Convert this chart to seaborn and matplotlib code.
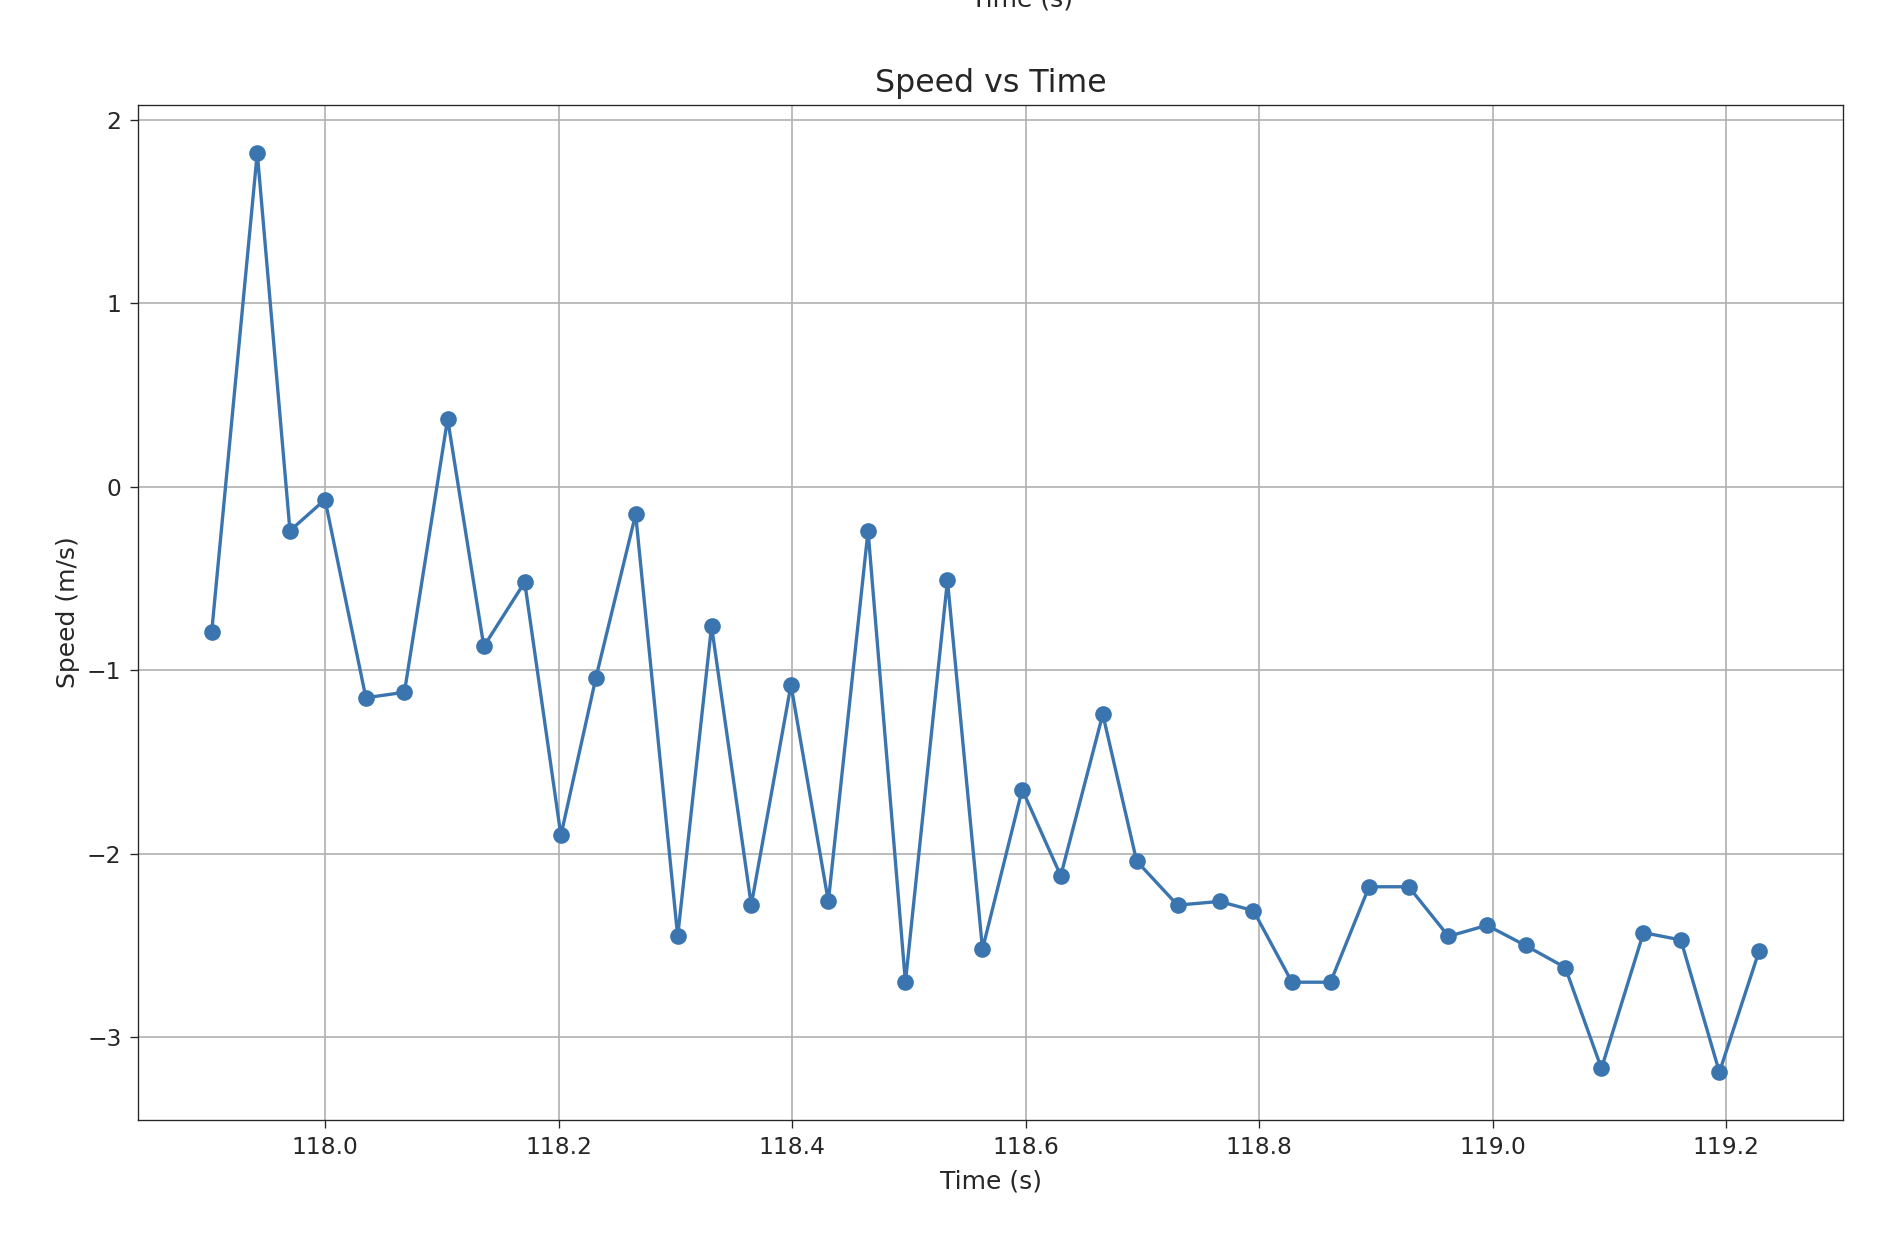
import matplotlib
matplotlib.use("Agg")
import matplotlib.pyplot as plt
import seaborn as sns
import pandas as pd

time_s = [117.903, 117.942, 117.970, 118.000, 118.035, 118.068, 118.105, 118.136, 118.171, 118.202,
          118.232, 118.266, 118.302, 118.331, 118.365, 118.399, 118.431, 118.465, 118.497, 118.533,
          118.563, 118.597, 118.630, 118.666, 118.695, 118.730, 118.766, 118.795, 118.828, 118.861,
          118.894, 118.928, 118.962, 118.995, 119.028, 119.062, 119.093, 119.129, 119.161, 119.194, 119.228]
speed = [-0.79, 1.82, -0.24, -0.07, -1.15, -1.12, 0.37, -0.87, -0.52, -1.90,
         -1.04, -0.15, -2.45, -0.76, -2.28, -1.08, -2.26, -0.24, -2.70, -0.51,
         -2.52, -1.65, -2.12, -1.24, -2.04, -2.28, -2.26, -2.31, -2.70, -2.70,
         -2.18, -2.18, -2.45, -2.39, -2.50, -2.62, -3.17, -2.43, -2.47, -3.19, -2.53]

df = pd.DataFrame({"t": time_s, "v": speed})
sns.set_style("ticks")
plt.rcParams['font.family'] = ['DejaVu Sans']
fig = plt.figure(figsize=(15.77, 10.3), dpi=120)
ax = fig.add_axes([0.073, 0.094, 0.901, 0.821])
sns.lineplot(data=df, x="t", y="v", ax=ax, color="#3b75af", marker="o", markersize=10,
             markeredgewidth=0, linewidth=2)
ax.grid(True, color="#b0b0b0", linewidth=1)
ax.set_xlabel("Time (s)", fontsize=15, labelpad=6)
ax.set_ylabel("Speed (m/s)", fontsize=15)
ax.set_title("Speed vs Time", fontsize=19, pad=8)
ax.tick_params(labelsize=14, length=5, pad=5)
ax.set_xticks([118.0, 118.2, 118.4, 118.6, 118.8, 119.0, 119.2])
ax.set_yticks([-3, -2, -1, 0, 1, 2])
ax.set_yticklabels(["\u22123", "\u22122", "\u22121", "0", "1", "2"])
ax.set_xlim(117.84, 119.30)
ax.set_ylim(-3.45, 2.08)
fig.text(0.54, 1.0, "Time (s)", fontsize=15, ha="center", va="center")
fig.savefig("out.png", dpi=120)
